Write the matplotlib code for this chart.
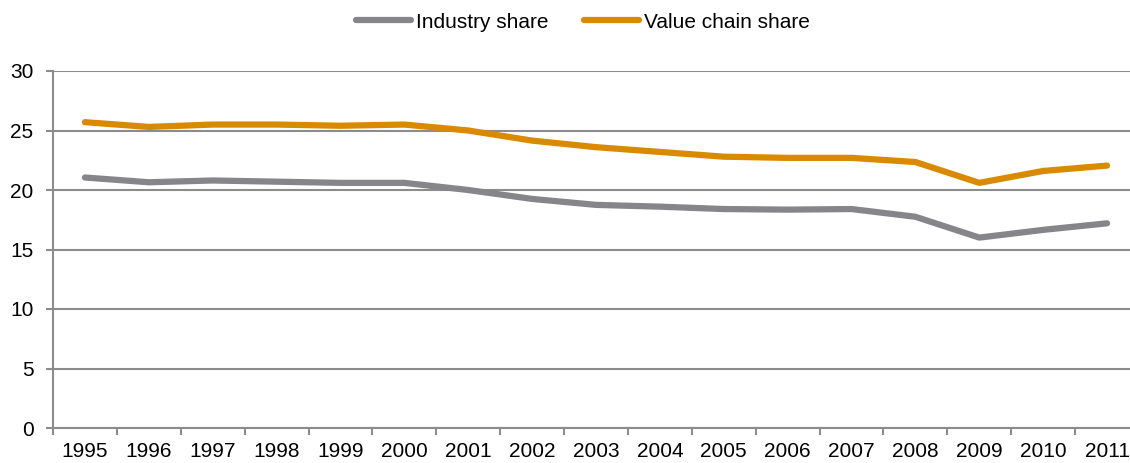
import matplotlib
matplotlib.use("Agg")
from matplotlib import pyplot as plt
import numpy as np

plt.rcParams['font.family'] = ['Liberation Sans', 'DejaVu Sans']

years = ['1995', '1996', '1997', '1998', '1999', '2000', '2001', '2002', '2003',
         '2004', '2005', '2006', '2007', '2008', '2009', '2010', '2011']
industry = [21.05, 20.65, 20.8, 20.7, 20.6, 20.6, 20.0, 19.25, 18.75,
            18.6, 18.4, 18.35, 18.4, 17.75, 16.0, 16.65, 17.2]
value_chain = [25.7, 25.3, 25.5, 25.5, 25.4, 25.5, 25.0, 24.15, 23.6,
               23.2, 22.8, 22.7, 22.7, 22.35, 20.6, 21.6, 22.05]

grey = '#86858a'
orange = '#d98a00'
axcol = '#8c8c8c'
fs = 15

fig = plt.figure(figsize=(11.3, 4.63), dpi=100)
ax = fig.add_axes([53 / 1130., 35 / 463., 1086 / 1130., 357 / 463.])

x = np.arange(len(years))
ax.plot(x, industry, color=grey, lw=4.5, solid_capstyle='round', label='Industry share', zorder=3)
ax.plot(x, value_chain, color=orange, lw=4.5, solid_capstyle='round', label='Value chain share', zorder=3)

ax.set_xlim(-0.5, len(years) - 0.5)
ax.set_ylim(0, 30)
ax.set_yticks(range(0, 31, 5))
ax.yaxis.grid(True, color=axcol, lw=1.5)
ax.set_axisbelow(True)

ax.set_xticks(x)
ax.set_xticklabels(years, fontsize=fs)
ax.set_xticks(np.arange(-0.5, len(years), 1), minor=True)
ax.tick_params(axis='x', which='major', length=0, pad=10)
ax.tick_params(axis='x', which='minor', length=5, width=1.5, color=axcol, direction='out')
ax.tick_params(axis='y', length=5, width=1.5, color=axcol, labelsize=fs, pad=9)

for s in ['top', 'right']:
    ax.spines[s].set_visible(False)
for s in ['left', 'bottom']:
    ax.spines[s].set_color(axcol)
    ax.spines[s].set_linewidth(1.5)

fig.legend(loc='center', bbox_to_anchor=(583 / 1130., 1 - 22 / 463.), ncol=2, frameon=False,
           fontsize=fs, handlelength=2.65, handletextpad=0.25, columnspacing=1.7)

fig.savefig('out.png', dpi=100)
